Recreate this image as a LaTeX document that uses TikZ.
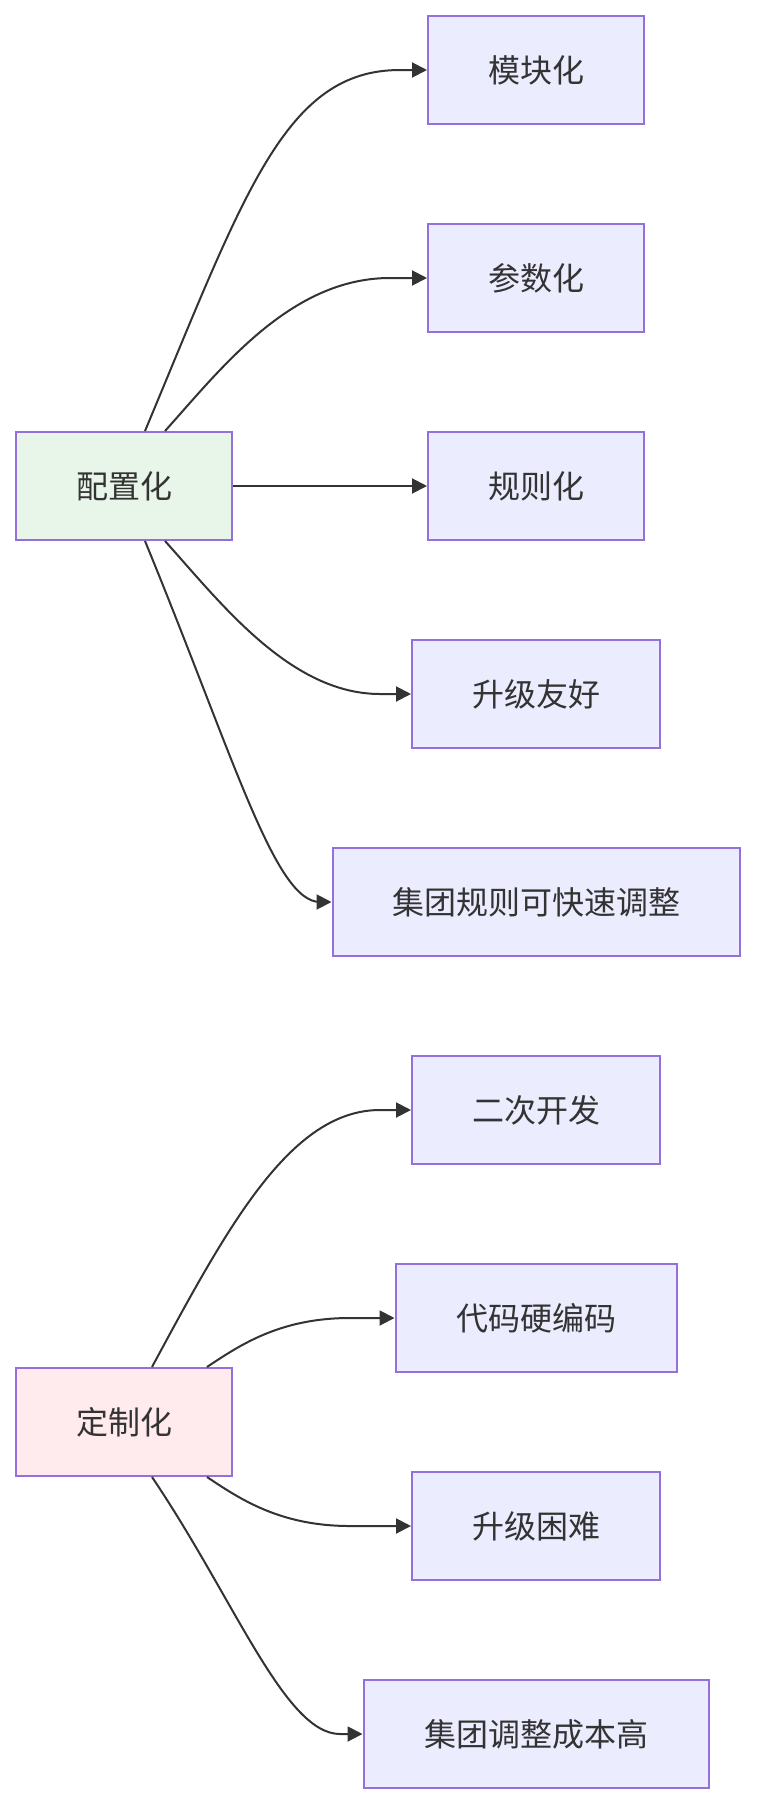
\documentclass[tikz,border=0pt]{standalone}
\usepackage{fontspec}
\newfontfamily\cjk{Noto Sans CJK SC}
\usetikzlibrary{arrows.meta,calc}
\definecolor{nodefill}{HTML}{ECECFF}
\definecolor{nodeline}{HTML}{9370DB}
\definecolor{greenfill}{HTML}{E8F5E9}
\definecolor{pinkfill}{HTML}{FFEBEE}
\definecolor{txt}{HTML}{333333}
\definecolor{edgecol}{HTML}{333333}
\begin{document}
\begin{tikzpicture}[x=1pt,y=-1pt,
  box/.style={draw=nodeline, line width=2pt, fill=nodefill, minimum height=108pt, inner sep=0pt, font=\cjk\fontsize{32}{38}\selectfont, text=txt},
  link/.style={draw=edgecol, line width=2pt, -{Triangle[length=15pt,width=15pt]}}]
\useasboundingbox (0,0) rectangle (756,1804);
% upper group
\node[box, minimum width=216pt, fill=greenfill] (cfg) at (124,486) {配置化};
\node[box, minimum width=216pt] (mod) at (536,70) {模块化};
\node[box, minimum width=216pt] (par) at (536,278) {参数化};
\node[box, minimum width=216pt] (rul) at (536,486) {规则化};
\node[box, minimum width=248pt] (upf) at (536,694) {升级友好};
\node[box, minimum width=407pt] (grp) at (536,902) {集团规则可快速调整};
% lower group
\node[box, minimum width=216pt, fill=pinkfill] (cus) at (124,1422) {定制化};
\node[box, minimum width=248pt] (dev) at (536,1110) {二次开发};
\node[box, minimum width=281pt] (hard) at (536,1318) {代码硬编码};
\node[box, minimum width=248pt] (upd) at (536,1526) {升级困难};
\node[box, minimum width=345pt] (cost) at (536,1734) {集团调整成本高};
% edges upper
\draw[link] ($(cfg.north)+(21,0)$) .. controls (245,192) and (285,70) .. (400,70) -- (mod.west);
\draw[link] ($(cfg.north)+(41,0)$) .. controls (220,370) and (290,278) .. (390,278) -- (par.west);
\draw[link] (cfg.east) -- (rul.west);
\draw[link] ($(cfg.south)+(41,0)$) .. controls (220,602) and (290,694) .. (380,694) -- (upf.west);
\draw[link] ($(cfg.south)+(21,0)$) .. controls (235,760) and (275,902) .. (320,902) -- (grp.west);
% edges lower
\draw[link] ($(cus.north)+(28,0)$) .. controls (227,1228) and (290,1110) .. (380,1110) -- (dev.west);
\draw[link] ($(cus.north)+(83,0)$) .. controls (240,1345) and (280,1318) .. (350,1318) -- (hard.west);
\draw[link] ($(cus.south)+(83,0)$) .. controls (240,1499) and (280,1526) .. (350,1526) -- (upd.west);
\draw[link] ($(cus.south)+(28,0)$) .. controls (235,1600) and (285,1734) .. (340,1734) -- (cost.west);
\end{tikzpicture}
\end{document}
